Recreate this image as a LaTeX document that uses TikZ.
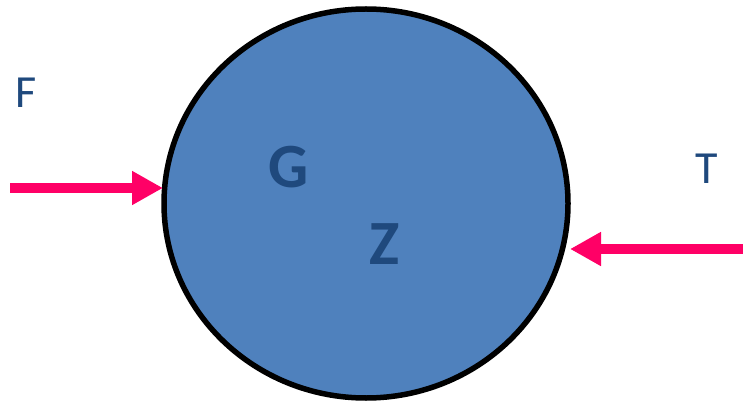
\documentclass[tikz,border=0pt]{standalone}
\usepackage{fontspec}
\setmainfont{Carlito}
\usetikzlibrary{shapes.geometric,arrows.meta}
\definecolor{fillblue}{HTML}{4F81BD}
\definecolor{txtblue}{HTML}{1F497D}
\definecolor{arrpink}{HTML}{FF0066}
\tikzset{
  lbl/.style={text=txtblue,font=\fontsize{46}{50}\selectfont,inner sep=0pt},
  biglbl/.style={text=txtblue,font=\fontsize{63}{66}\selectfont\bfseries,inner sep=0pt},
  force/.style={draw=arrpink,line width=10.5pt,-{Triangle[length=31pt,width=32pt]},fill=arrpink},
}
\begin{document}
\begin{tikzpicture}[x=1pt,y=-1pt]
\useasboundingbox (0,0) rectangle (743,403);
\node[ellipse,draw=black,line width=5.5pt,fill=fillblue,minimum width=404pt,minimum height=389pt,inner sep=0pt,outer sep=0pt] (c) at (366,203.5) {};
\node[lbl] (f) at (26,93) {F};
\node[lbl] (t) at (707,169) {T};
\node[biglbl] (g) at (289,167) {G};
\node[biglbl] (z) at (385,244) {Z};
\coordinate (fs) at (10,188);
\coordinate (ts) at (743,249);
\draw[force] (fs) -- ([xshift=-1pt]fs -| c.west);
\draw[force] (ts) -- ([xshift=2pt]ts -| c.east);
\end{tikzpicture}
\end{document}
